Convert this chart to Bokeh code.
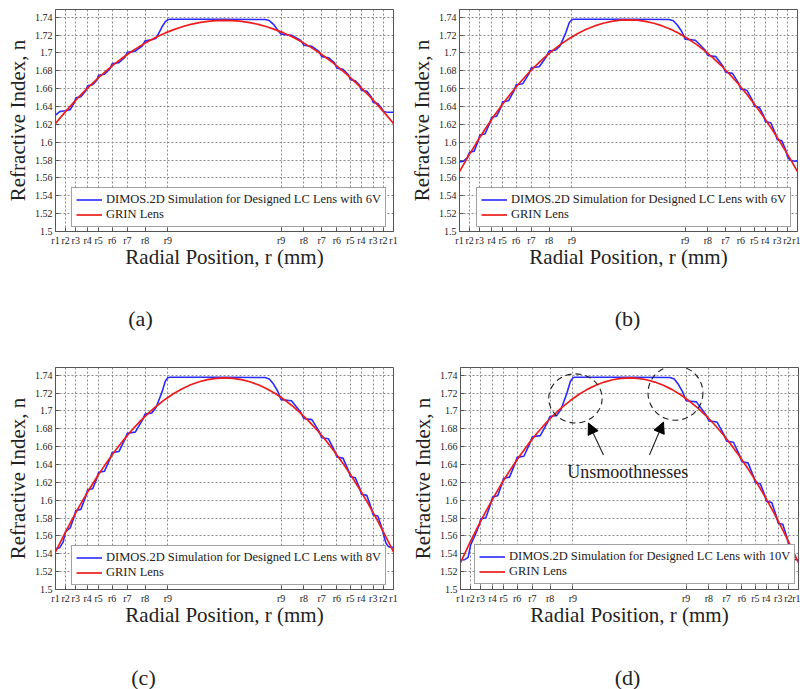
from bokeh.plotting import figure
from bokeh.layouts import column, row
from bokeh.models import Range1d, FixedTicker, Label, Arrow, NormalHead
from bokeh.core.properties import value
from bokeh.embed import file_html
from bokeh.resources import INLINE

# ---------------- data ----------------
tick_pos = [-1.0, -0.94, -0.88, -0.81, -0.745, -0.665, -0.575, -0.47, -0.335,
            0.335, 0.47, 0.575, 0.665, 0.745, 0.81, 0.88, 0.94, 1.0]
tick_labels = ["r1", "r2", "r3", "r4", "r5", "r6", "r7", "r8", "r9",
               "r9", "r8", "r7", "r6", "r5", "r4", "r3", "r2", "r1"]
y_ticks = [1.5, 1.52, 1.54, 1.56, 1.58, 1.6, 1.62, 1.64, 1.66, 1.68, 1.7, 1.72, 1.74]
y_tick_labels = ["1.5", "1.52", "1.54", "1.56", "1.58", "1.6", "1.62", "1.64",
                 "1.66", "1.68", "1.7", "1.72", "1.74"]

red_x = [-1.0, -0.95, -0.9, -0.85, -0.8, -0.75, -0.7, -0.65, -0.6, -0.55, -0.5,
         -0.45, -0.4, -0.35, -0.3, -0.25, -0.2, -0.15, -0.1, -0.05, 0.0,
         0.05, 0.1, 0.15, 0.2, 0.25, 0.3, 0.35, 0.4, 0.45, 0.5,
         0.55, 0.6, 0.65, 0.7, 0.75, 0.8, 0.85, 0.9, 0.95, 1.0]
red_a = [1.6210, 1.6323, 1.6429, 1.6531, 1.6626, 1.6715, 1.6799, 1.6877, 1.6949, 1.7016, 1.7076,
         1.7131, 1.7180, 1.7224, 1.7261, 1.7293, 1.7319, 1.7339, 1.7353, 1.7362, 1.7365,
         1.7362, 1.7353, 1.7339, 1.7319, 1.7293, 1.7261, 1.7224, 1.7180, 1.7131, 1.7076,
         1.7016, 1.6949, 1.6877, 1.6799, 1.6715, 1.6626, 1.6531, 1.6429, 1.6323, 1.6210]
red_b = [1.5670, 1.5836, 1.5993, 1.6142, 1.6282, 1.6414, 1.6537, 1.6652, 1.6758, 1.6856, 1.6945,
         1.7026, 1.7098, 1.7162, 1.7217, 1.7264, 1.7302, 1.7332, 1.7353, 1.7366, 1.7370,
         1.7366, 1.7353, 1.7332, 1.7302, 1.7264, 1.7217, 1.7162, 1.7098, 1.7026, 1.6945,
         1.6856, 1.6758, 1.6652, 1.6537, 1.6414, 1.6282, 1.6142, 1.5993, 1.5836, 1.5670]
red_c = [1.5420, 1.5610, 1.5791, 1.5961, 1.6122, 1.6273, 1.6415, 1.6546, 1.6668, 1.6780, 1.6883,
         1.6975, 1.7058, 1.7131, 1.7195, 1.7248, 1.7292, 1.7326, 1.7351, 1.7365, 1.7370,
         1.7365, 1.7351, 1.7326, 1.7292, 1.7248, 1.7195, 1.7131, 1.7058, 1.6975, 1.6883,
         1.6780, 1.6668, 1.6546, 1.6415, 1.6273, 1.6122, 1.5961, 1.5791, 1.5610, 1.5420]
red_d = [1.5300, 1.5502, 1.5693, 1.5874, 1.6045, 1.6206, 1.6356, 1.6495, 1.6625, 1.6744, 1.6853,
         1.6951, 1.7039, 1.7116, 1.7184, 1.7241, 1.7287, 1.7323, 1.7349, 1.7365, 1.7370,
         1.7365, 1.7349, 1.7323, 1.7287, 1.7241, 1.7184, 1.7116, 1.7039, 1.6951, 1.6853,
         1.6744, 1.6625, 1.6495, 1.6356, 1.6206, 1.6045, 1.5874, 1.5693, 1.5502, 1.5300]

blue_x = [-1.0, -0.975, -0.955, -0.94, -0.913, -0.889,
          -0.88, -0.85, -0.82,
          -0.81, -0.78, -0.755,
          -0.745, -0.71, -0.677,
          -0.665, -0.625, -0.589,
          -0.575, -0.528, -0.486,
          -0.47, -0.43, -0.405,
          -0.37, -0.35, -0.335, -0.325,
          0.0, 0.24, 0.265, 0.29, 0.315,
          0.335, 0.396, 0.45,
          0.47, 0.517, 0.559,
          0.575, 0.615, 0.651,
          0.665, 0.701, 0.733,
          0.745, 0.774, 0.80,
          0.81, 0.842, 0.869,
          0.88, 0.907, 0.931,
          0.94, 0.955, 0.97, 1.0]
blue_a = [1.6304, 1.6342, 1.6349, 1.6352, 1.6365, 1.6440,
          1.6496, 1.6508, 1.6576,
          1.6632, 1.6644, 1.6695,
          1.6749, 1.6761, 1.6824,
          1.6879, 1.6891, 1.6952,
          1.7008, 1.7020, 1.7080,
          1.7135, 1.7147, 1.7164,
          1.7290, 1.7350, 1.7372, 1.7376,
          1.7376, 1.7374, 1.7362, 1.7320, 1.7255,
          1.7210, 1.7198, 1.7143,
          1.7085, 1.7073, 1.7016,
          1.6958, 1.6946, 1.6888,
          1.6829, 1.6817, 1.6756,
          1.6699, 1.6687, 1.6638,
          1.6582, 1.6570, 1.6505,
          1.6446, 1.6434, 1.6376,
          1.6345, 1.6338, 1.6336, 1.6335]
blue_b = [1.5778, 1.5788, 1.5825, 1.5888, 1.5900, 1.6015,
          1.6079, 1.6091, 1.6215,
          1.6280, 1.6292, 1.6389,
          1.6452, 1.6464, 1.6579,
          1.6643, 1.6655, 1.6768,
          1.6833, 1.6845, 1.6957,
          1.7020, 1.7032, 1.7079,
          1.7230, 1.7340, 1.7372, 1.7376,
          1.7376, 1.7374, 1.7360, 1.7310, 1.7240,
          1.7154, 1.7142, 1.7038,
          1.6970, 1.6958, 1.6851,
          1.6783, 1.6771, 1.6662,
          1.6593, 1.6581, 1.6469,
          1.6402, 1.6390, 1.6294,
          1.6230, 1.6218, 1.6098,
          1.6029, 1.6017, 1.5908,
          1.5843, 1.5800, 1.5790, 1.5788]
blue_c = [1.5455, 1.5468, 1.5530, 1.5650, 1.5690, 1.5817,
          1.5885, 1.5897, 1.6047,
          1.6116, 1.6128, 1.6247,
          1.6313, 1.6325, 1.6464,
          1.6533, 1.6545, 1.6681,
          1.6750, 1.6762, 1.6897,
          1.6964, 1.6976, 1.7038,
          1.7210, 1.7335, 1.7372, 1.7376,
          1.7376, 1.7374, 1.7358, 1.7300, 1.7220,
          1.7126, 1.7114, 1.6987,
          1.6914, 1.6902, 1.6773,
          1.6700, 1.6688, 1.6556,
          1.6483, 1.6471, 1.6334,
          1.6263, 1.6251, 1.6134,
          1.6066, 1.6054, 1.5909,
          1.5835, 1.5823, 1.5692,
          1.5622, 1.5520, 1.5480, 1.5470]
blue_d = [1.5330, 1.5334, 1.5360, 1.5500, 1.5610, 1.5722,
          1.5792, 1.5804, 1.5966,
          1.6037, 1.6049, 1.6178,
          1.6246, 1.6258, 1.6409,
          1.6480, 1.6492, 1.6640,
          1.6711, 1.6723, 1.6869,
          1.6938, 1.6950, 1.7019,
          1.7200, 1.7330, 1.7370, 1.7376,
          1.7376, 1.7374, 1.7356, 1.7295, 1.7210,
          1.7113, 1.7101, 1.6963,
          1.6888, 1.6876, 1.6735,
          1.6661, 1.6649, 1.6505,
          1.6430, 1.6418, 1.6270,
          1.6196, 1.6184, 1.6057,
          1.5987, 1.5975, 1.5819,
          1.5742, 1.5730, 1.5588,
          1.5516, 1.5400, 1.5340, 1.5330]

voltages = ["6V", "6V", "8V", "10V"]
captions = ["(a)", "(b)", "(c)", "(d)"]

FONT = "Liberation Serif"
TXT = "#222222"
EDGE = "#555555"


def make_panel(red_y, blue_y, volt, left, right, top, bottom, height, leg_x, leg_y):
    p = figure(width=400, height=height, output_backend="svg", toolbar_location=None,
               x_range=Range1d(-1.0, 1.0), y_range=Range1d(1.5, 1.7486),
               min_border_left=left, min_border_right=right,
               min_border_top=top, min_border_bottom=bottom)
    p.background_fill_color = "white"
    p.border_fill_color = "white"
    p.outline_line_color = EDGE
    p.outline_line_width = 1

    p.line(blue_x, blue_y, line_color="#2a2aff", line_width=1.6,
           legend_label="DIMOS.2D Simulation for Designed LC Lens with " + volt)
    p.line(red_x, red_y, line_color="#ee1c1c", line_width=1.7, line_join="round",
           legend_label="GRIN Lens")

    p.xaxis.ticker = FixedTicker(ticks=tick_pos)
    p.xaxis.major_label_overrides = dict(zip(tick_pos, tick_labels))
    p.yaxis.ticker = FixedTicker(ticks=y_ticks)
    p.yaxis.major_label_overrides = dict(zip(y_ticks, y_tick_labels))
    p.xaxis.axis_label = "Radial Position, r (mm)"
    p.yaxis.axis_label = "Refractive Index, n"
    for ax in (p.xaxis[0], p.yaxis[0]):
        ax.major_tick_in = 4
        ax.major_tick_out = 0
        ax.minor_tick_line_color = None
        ax.axis_line_color = EDGE
        ax.major_tick_line_color = EDGE
        ax.major_label_text_font = FONT
        ax.major_label_text_font_size = "10px"
        ax.major_label_text_color = TXT
        ax.major_label_standoff = 3
        ax.axis_label_text_font = FONT
        ax.axis_label_text_font_size = "21px"
        ax.axis_label_text_font_style = "normal"
        ax.axis_label_text_color = TXT
    p.xaxis.axis_label_standoff = -4
    p.yaxis.axis_label_standoff = 2

    for g in (p.xgrid[0], p.ygrid[0]):
        g.grid_line_color = "#8a8a8a"
        g.grid_line_dash = "2 2"
        g.grid_line_width = 1

    lg = p.legend[0]
    lg.location = (leg_x, leg_y)
    lg.border_line_color = "#444444"
    lg.border_line_width = 1
    lg.background_fill_color = "white"
    lg.background_fill_alpha = 1.0
    lg.label_text_font = FONT
    lg.label_text_font_size = "12.5px"
    lg.label_text_color = TXT
    lg.glyph_width = 26
    lg.glyph_height = 13
    lg.label_height = 13
    lg.label_standoff = 4
    lg.spacing = 0
    lg.padding = 4
    lg.margin = 0
    return p


def make_caption(caption, height, cx, cy):
    c = figure(width=400, height=height, output_backend="svg", toolbar_location=None,
               x_range=Range1d(0, 400), y_range=Range1d(0, height),
               x_axis_type=None, y_axis_type=None, min_border=0)
    c.outline_line_color = None
    c.grid.visible = False
    c.background_fill_color = "white"
    c.border_fill_color = "white"
    c.text(x=[cx], y=[cy], text=[caption], text_align="center", text_baseline="middle",
           text_font=value(FONT), text_font_size=value("22px"), text_color=TXT)
    return c


pa = make_panel(red_a, blue_a, voltages[0], 55, 7, 9, 50, 281, 16, 4)
pb = make_panel(red_b, blue_b, voltages[1], 59, 3, 9, 50, 281, 17, 4)
pc = make_panel(red_c, blue_c, voltages[2], 55, 7, 23, 50, 295, 16, 4)
pd = make_panel(red_d, blue_d, voltages[3], 60, 2, 23, 50, 295, 14, 5)

ca = make_caption(captions[0], 63, 140, 26)
cb = make_caption(captions[1], 63, 227, 26)
cc = make_caption(captions[2], 50, 143, 12)
cd = make_caption(captions[3], 50, 227, 12)

# annotations in panel (d)
ell_x = [-0.32, 0.272]
ell_y = [1.714, 1.720]
ell_w = [0.316, 0.325]
ell_h = [0.055, 0.061]
pd.ellipse(x=ell_x, y=ell_y, width=ell_w, height=ell_h, fill_color=None,
           line_color="#222222", line_width=1.1, line_dash="6 4")
arrow_start = [(-0.154, 1.6507), (0.118, 1.6507)]
arrow_end = [(-0.243, 1.6864), (0.201, 1.6875)]
for (xs, ys), (xe, ye) in zip(arrow_start, arrow_end):
    pd.add_layout(Arrow(end=NormalHead(size=11, fill_color="black", line_color="black"),
                        x_start=xs, y_start=ys, x_end=xe, y_end=ye,
                        line_color="#222222", line_width=1.1))
pd.add_layout(Label(x=-0.01, y=1.6317, text="Unsmoothnesses", text_align="center",
                    text_baseline="middle", text_font=FONT, text_font_size="18px",
                    text_color=TXT))

layout = column(row(pa, pb), row(ca, cb), row(pc, pd), row(cc, cd))
open("out.html", "w").write(file_html(layout, INLINE))
